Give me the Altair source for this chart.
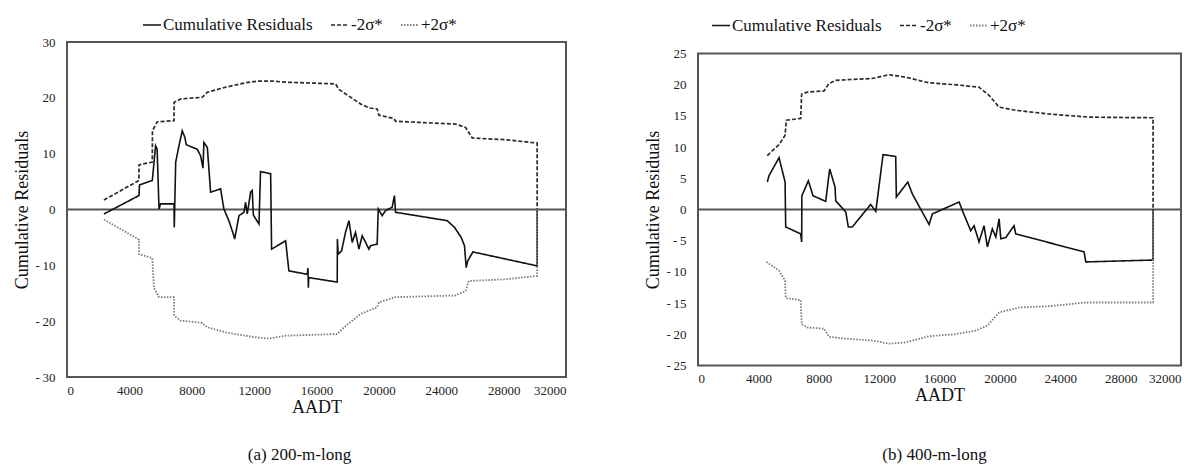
import altair as alt
import pandas as pd

SERIES = ["Cumulative Residuals", "-2σ*", "+2σ*"]

# ---------- Panel (a) 200-m-long ----------
a_cr_x = [2370, 4615, 4650, 5470, 5680, 5780, 5900, 6000, 6860, 6880, 6970, 7180, 7390, 7560, 7650,
          8350, 8570, 8720, 8780, 9000, 9210, 9850, 10060, 10380, 10700, 10750, 11030, 11350, 11450,
          11560, 11775, 11880, 11950, 12310, 12410, 13060, 13120, 14020, 14230, 15410, 15450, 15480,
          15500, 17330, 17340, 17390, 17610, 17860, 18080, 18290, 18500, 18720, 18930, 19150, 19360,
          19470, 19890, 19960, 20210, 20430, 20850, 21000, 21070, 24380, 24850, 25280, 25490, 25600,
          25700, 26030, 30150, 30150]
a_cr_y = [-0.8, 2.5, 4.4, 5.2, 11.4, 10.8, 0.1, 1.0, 1.0, -3.2, 8.5, 11.4, 14.1, 12.9, 11.6,
          10.8, 9.6, 7.4, 12.0, 11.1, 3.1, 3.7, 0.1, -2.0, -4.7, -5.3, -1.1, -0.5, 1.3,
          -0.8, 3.1, 3.4, -1.0, -2.6, 6.8, 6.4, -7.1, -5.6, -11.0, -11.6, -10.5, -14.0,
          -12.2, -13.0, -5.3, -8.0, -7.4, -4.1, -2.0, -5.9, -4.1, -7.1, -4.7, -5.9, -7.1,
          -6.5, -6.2, 0.1, -1.1, -0.2, 0.4, 2.5, -0.5, -2.0, -3.2, -5.0, -6.5, -10.4,
          -9.2, -7.6, -10.1, 0.0]

a_up_x = [2370, 4615, 4620, 5470, 5480, 5790, 6860, 6870, 7290, 8675, 9000, 10170, 11450, 12310,
          13160, 14020, 17220, 17440, 18830, 19360, 19890, 20000, 20960, 21070, 24910, 25560, 25990,
          28120, 30150, 30150]
a_up_y = [1.7, 5.2, 8.0, 8.5, 14.1, 15.7, 15.9, 19.2, 19.8, 20.1, 21.0, 21.9, 22.7, 23.0,
          23.0, 22.8, 22.5, 21.5, 18.9, 18.2, 18.0, 16.9, 16.3, 15.8, 15.3, 14.7, 12.8,
          12.5, 11.9, 0.0]

a_lo_x = [2370, 4615, 4620, 5470, 5580, 5900, 6860, 6870, 7290, 8675, 9000, 10170, 12100, 12950,
          14020, 17330, 17760, 18830, 19890, 20000, 21070, 24910, 25560, 25770, 28120, 30150, 30150]
a_lo_y = [-1.8, -5.4, -8.0, -8.7, -14.1, -15.7, -15.7, -19.0, -19.9, -20.3, -21.1, -22.0, -22.9, -23.1,
          -22.6, -22.3, -21.1, -18.7, -17.5, -16.6, -15.7, -15.4, -14.6, -12.8, -12.5, -11.9, 0.0]

# ---------- Panel (b) 400-m-long ----------
b_cr_x = [4590, 4700, 5370, 5770, 5810, 6800, 6870, 6880, 7310, 7620, 8460, 8725, 9080, 9125, 9790,
          9960, 10220, 11440, 11780, 12260, 13100, 13140, 13900, 14200, 15310, 15530, 17300, 17520,
          18070, 18290, 18620, 18950, 19170, 19500, 19730, 19950, 20060, 20390, 20940, 21050, 25580,
          25690, 30150, 30150]
b_cr_y = [4.4, 5.4, 8.3, 4.4, -2.8, -3.9, -5.2, 2.2, 4.6, 2.2, 1.3, 6.5, 3.6, 1.4, -0.4,
          -2.8, -2.8, 0.8, -0.3, 8.8, 8.5, 2.0, 4.4, 2.5, -2.4, -0.7, 1.2, -0.2,
          -3.4, -2.6, -5.2, -2.6, -6.0, -3.1, -4.4, -1.5, -4.7, -4.5, -2.6, -3.9, -6.8,
          -8.4, -8.1, 0.0]

b_up_x = [4590, 5370, 5770, 5850, 6800, 6870, 7240, 8350, 8680, 9125, 10670, 11550, 12660, 13760,
          15300, 17000, 18620, 19280, 19950, 21050, 23260, 25910, 30150, 30150]
b_up_y = [8.65, 10.4, 11.9, 14.3, 14.6, 18.5, 18.8, 19.0, 20.2, 20.7, 20.9, 21.0, 21.6, 21.2,
          20.3, 20.0, 19.6, 18.3, 16.4, 15.9, 15.3, 14.8, 14.7, 0.0]

b_lo_x = [4530, 5370, 5770, 5810, 6800, 6870, 7240, 8350, 8680, 9790, 11550, 12660, 13760, 15300,
          17000, 18400, 19170, 19950, 21270, 23260, 25690, 30150, 30150]
b_lo_y = [-8.4, -9.8, -11.4, -14.2, -14.5, -18.4, -18.9, -19.1, -20.4, -20.7, -21.0, -21.5, -21.3, -20.3,
          -20.0, -19.4, -18.6, -16.5, -15.7, -15.5, -14.9, -14.9, 0.0]

X_TICKS = [0, 4000, 8000, 12000, 16000, 20000, 24000, 28000, 32000]
A_Y_TICKS = [-30, -20, -10, 0, 10, 20, 30]
B_Y_TICKS = [-25, -20, -15, -10, -5, 0, 5, 10, 15, 20, 25]

FONT = "Liberation Serif"


def frame(cr, up, lo):
    rows = []
    for name, (xs, ys) in zip(SERIES, [cr, up, lo]):
        for i, (x, y) in enumerate(zip(xs, ys)):
            rows.append({"AADT": x, "val": y, "series": name, "idx": i})
    return pd.DataFrame(rows)


def panel(df, ydom, yticks, w, h, lx, ly, caption, cap_dx, cap_off):
    leg = alt.Legend(orient="none", legendX=lx, legendY=ly, direction="horizontal", title=None,
                     symbolType="stroke", symbolSize=324, labelFont=FONT, labelFontSize=17,
                     labelColor="#111", columnPadding=14, labelOffset=1, symbolStrokeWidth=1.6)
    x = alt.X("AADT:Q", scale=alt.Scale(domain=[0, 32000], nice=False, zero=False),
              axis=alt.Axis(values=X_TICKS, format="d", title="AADT", titlePadding=1, labelPadding=7))
    y = alt.Y("val:Q", scale=alt.Scale(domain=ydom, nice=False, zero=False),
              axis=alt.Axis(values=yticks, title="Cumulative Residuals", titlePadding=4,
                            labelPadding=12, labelOverlap=False,
                            labelExpr="datum.value < 0 ? '-\u2009' + abs(datum.value) : '' + datum.value"))
    lines = alt.Chart(df).mark_line(strokeJoin="miter").encode(
        x=x, y=y,
        color=alt.Color("series:N", scale=alt.Scale(domain=SERIES, range=["#111111", "#2b2b2b", "#7a7a7a"]), legend=leg),
        strokeDash=alt.StrokeDash("series:N", scale=alt.Scale(domain=SERIES, range=[[1, 0], [4, 2], [1.5, 1.5]]), legend=leg),
        strokeWidth=alt.StrokeWidth("series:N", scale=alt.Scale(domain=SERIES, range=[1.6, 1.8, 1.3]), legend=leg),
        order="idx:Q",
    )
    zero = alt.Chart(pd.DataFrame({"val": [0]})).mark_rule(color="#555555", strokeWidth=2).encode(y=y)
    return alt.layer(zero, lines).properties(
        width=w, height=h,
        title=alt.TitleParams(text=caption, orient="bottom", anchor="middle", frame="group",
                              font=FONT, fontSize=17, fontWeight="normal", color="#111",
                              dx=cap_dx, offset=cap_off),
    )


left = panel(frame((a_cr_x, a_cr_y), (a_up_x, a_up_y), (a_lo_x, a_lo_y)),
             [-30, 30], A_Y_TICKS, 499, 335, 75, -27, "(a) 200-m-long", -17, 31)
right = panel(frame((b_cr_x, b_cr_y), (b_up_x, b_up_y), (b_lo_x, b_lo_y)),
              [-25, 25], B_Y_TICKS, 483, 312, 13, -38, "(b) 400-m-long", -5, 42)

chart = alt.hconcat(left, right, spacing=132, center=True, bounds="flush").resolve_scale(
    x="independent", y="independent", color="independent",
    strokeDash="independent", strokeWidth="independent"
).resolve_legend(color="independent", strokeDash="independent", strokeWidth="independent").properties(
    padding={"left": 4, "top": 6, "right": 0, "bottom": 0}
).configure_view(stroke="#555555", strokeWidth=2).configure_axis(
    domain=False, ticks=False, grid=False, labelFont=FONT, labelFontSize=13, labelColor="#222",
    titleFont=FONT, titleFontSize=18, titleFontWeight="normal", titleColor="#111"
)

chart.save("out.html", embed_options={"renderer": "svg", "actions": False})
